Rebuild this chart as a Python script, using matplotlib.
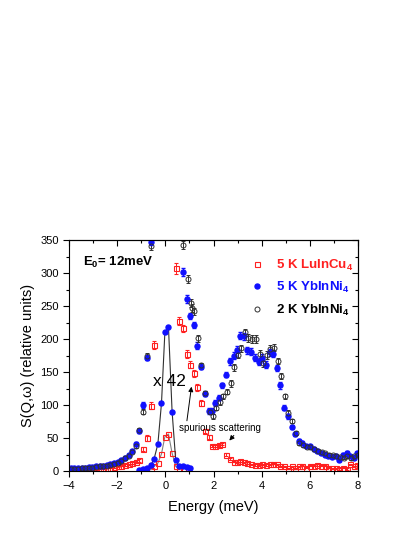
import numpy as np
import matplotlib
matplotlib.use("Agg")
from matplotlib import pyplot as plt
from matplotlib.lines import Line2D

plt.rcParams['font.family'] = ['Liberation Sans', 'DejaVu Sans']
plt.rcParams['mathtext.fontset'] = 'custom'
plt.rcParams['mathtext.rm'] = 'Liberation Sans'
plt.rcParams['mathtext.bf'] = 'Liberation Sans:bold'

# 5 K YbInNi4 (filled blue)
blue_x = [-3.93, -3.78, -3.63, -3.48, -3.33, -3.18, -3.03, -2.88, -2.73, -2.58,
          -2.43, -2.28, -2.13, -1.98, -1.83, -1.68, -1.53, -1.38, -1.23, -1.08,
          -0.91, -0.77, -0.6,
          0.72, 0.89, 1.03, 1.17, 1.33, 1.47, 1.63, 1.81, 1.93, 2.07,
          2.24, 2.37, 2.53, 2.68, 2.83, 2.98, 3.12, 3.27, 3.41, 3.55,
          3.73, 3.88, 4.02, 4.18, 4.33, 4.48, 4.63, 4.77, 4.92, 5.08,
          5.24, 5.38, 5.53, 5.69, 5.85, 5.99, 6.16, 6.3, 6.46, 6.61,
          6.77, 6.92, 7.07, 7.21, 7.38, 7.53, 7.68, 7.82, 7.96]
blue_y = [4, 4, 4, 5, 5, 6, 6, 7, 8, 8,
          9, 10, 12, 13, 16, 20, 24, 30, 41, 60,
          100, 172, 347,
          302, 261, 235, 221, 190, 158, 117, 91, 91, 103,
          111, 130, 146, 166, 175, 184, 205, 204, 183, 181,
          172, 165, 172, 161, 180, 178, 156, 130, 96, 83,
          67, 56, 46, 43, 38, 38, 33, 31, 28, 25,
          23, 21, 23, 17, 25, 28, 23, 20, 27]
blue_err = [1, 1, 1, 1, 1, 1, 1, 1, 1, 1,
            1, 1, 1, 1, 2, 2, 2, 2, 3, 3,
            4, 4, 5,
            6, 6, 5, 5, 5, 4, 4, 4, 4, 4,
            4, 4, 4, 5, 5, 5, 5, 5, 5, 5,
            5, 5, 5, 5, 5, 5, 5, 5, 4, 4,
            3, 3, 3, 3, 2, 2, 2, 2, 2, 2,
            2, 2, 2, 2, 2, 2, 2, 2, 2]

# 2 K YbInNi4 (open black)
black_x = [-3.93, -3.78, -3.63, -3.48, -3.33, -3.18, -3.03, -2.88, -2.73, -2.58,
           -2.43, -2.28, -2.13, -1.98, -1.83, -1.68, -1.53, -1.38, -1.23, -1.08,
           -0.91, -0.77, -0.6,
           0.75, 0.92, 1.06, 1.12, 1.2, 1.36, 1.5, 1.66, 1.84, 1.96, 2.1,
           2.27, 2.4, 2.56, 2.71, 2.86, 3.01, 3.15, 3.3, 3.44, 3.58,
           3.76, 3.91, 4.05, 4.21, 4.36, 4.51, 4.66, 4.8, 4.95, 5.11,
           5.27, 5.41, 5.56, 5.72, 5.88, 6.02, 6.19, 6.33, 6.49, 6.64,
           6.8, 6.95, 7.1, 7.24, 7.41, 7.56, 7.71, 7.85, 7.98]
black_y = [3, 3, 3, 4, 4, 5, 5, 6, 7, 7,
           8, 9, 11, 12, 15, 19, 23, 29, 38, 62,
           90, 175, 341,
           343, 291, 254, 247, 242, 201, 160, 118, 90, 83, 96,
           104, 113, 120, 133, 157, 176, 186, 210, 202, 200,
           200, 177, 163, 176, 185, 187, 167, 144, 113, 88,
           76, 57, 42, 40, 37, 36, 34, 31, 29, 27,
           25, 24, 23, 21, 20, 22, 19, 22, 25]
black_err = [1, 1, 1, 1, 1, 1, 1, 1, 1, 1,
             1, 1, 1, 1, 2, 2, 2, 2, 3, 3,
             4, 4, 6,
             6, 6, 6, 6, 5, 5, 4, 4, 4, 4, 4,
             4, 4, 4, 5, 5, 5, 5, 5, 6, 6,
             6, 6, 6, 6, 6, 5, 5, 5, 4, 4,
             3, 3, 3, 3, 2, 2, 2, 2, 2, 2,
             2, 2, 2, 2, 2, 2, 2, 2, 2]

# 5 K LuInCu4 (open red squares)
red_x = [-3.93, -3.78, -3.63, -3.48, -3.33, -3.18, -3.03, -2.88, -2.73, -2.58,
         -2.43, -2.28, -2.13, -1.98, -1.83, -1.68, -1.53, -1.38, -1.23, -1.08,
         -0.91, -0.77, -0.6, -0.47,
         0.43, 0.57, 0.72, 0.89, 1.03, 1.17, 1.33, 1.47, 1.63, 1.81,
         1.93, 2.07, 2.24, 2.37, 2.53, 2.68, 2.83, 2.98, 3.12, 3.27,
         3.41, 3.55, 3.73, 3.88, 4.02, 4.18, 4.33, 4.48, 4.63, 4.77,
         4.92, 5.08, 5.24, 5.38, 5.53, 5.69, 5.85, 5.99, 6.16, 6.3,
         6.46, 6.61, 6.77, 6.92, 7.07, 7.21, 7.38, 7.53, 7.68, 7.82, 7.96]
red_y = [2, 2, 2, 2, 2, 3, 3, 3, 4, 4,
         5, 5, 6, 7, 8, 9, 10, 12, 14, 16,
         33, 50, 99, 191,
         307, 227, 216, 178, 161, 148, 127, 103, 60, 51,
         38, 38, 39, 41, 25, 18, 14, 13, 15, 13,
         12, 10, 9, 9, 10, 9, 10, 11, 10, 7,
         7, 4, 7, 4, 7, 8, 5, 8, 8, 9,
         8, 8, 5, 4, 4, 3, 5, 3, 10, 7, 9]
red_err = [1, 1, 1, 1, 1, 1, 1, 1, 1, 1,
           1, 1, 1, 1, 1, 1, 1, 1, 2, 2,
           3, 4, 5, 6,
           8, 6, 6, 6, 5, 5, 5, 5, 3, 3,
           2, 2, 2, 2, 2, 1, 1, 1, 1, 1,
           1, 1, 1, 1, 1, 1, 1, 1, 1, 1,
           1, 1, 1, 1, 1, 1, 1, 1, 1, 1,
           1, 1, 1, 1, 1, 1, 1, 1, 1, 1, 1]

# elastic peak scaled down (x 42)
peak_blue_x = [-1.08, -0.91, -0.77, -0.6, -0.47, -0.31, -0.16, -0.02, 0.13,
               0.28, 0.43, 0.57, 0.72, 0.89, 1.03]
peak_blue_y = [2, 3, 4, 9, 18, 41, 103, 210, 218, 90, 16, 8, 7, 6, 5]
peak_red_x = [-0.6, -0.47, -0.31, -0.16, -0.02, 0.13, 0.28, 0.43, 0.57, 0.72]
peak_red_y = [2, 7, 12, 26, 52, 56, 27, 7, 3, 3]

red = '#ff2020'
blue = '#1010ff'
ms = 3.6

fig = plt.figure(figsize=(4.15, 5.37), dpi=100)
ax = fig.add_axes([0.1663, 0.1229, 0.6964, 0.430])

# scaled elastic peak lines
ax.plot(peak_red_x, peak_red_y, '-', color='#808080', lw=0.8,
        marker='s', ms=ms, mfc='none', mec=red, mew=0.8)
ax.plot(peak_blue_x, peak_blue_y, '-', color='#303030', lw=0.8,
        marker='o', ms=ms, mfc=blue, mec=blue)

ax.errorbar(red_x, red_y, yerr=red_err, fmt='s', ms=ms, mfc='none',
            mec=red, mew=0.8, ecolor=red, elinewidth=0.7, capsize=1.5)
ax.errorbar(blue_x, blue_y, yerr=blue_err, fmt='o', ms=ms, mfc=blue,
            mec=blue, ecolor=blue, elinewidth=0.7, capsize=1.5)
ax.errorbar(black_x, black_y, yerr=black_err, fmt='o', ms=ms, mfc='none',
            mec='#303030', mew=0.7, ecolor='#303030', elinewidth=0.7, capsize=1.5)

ax.set_xlim(-4, 8)
ax.set_ylim(0, 350)
ax.set_xticks([-4, -2, 0, 2, 4, 6, 8])
ax.set_xticks(np.arange(-3, 8, 2), minor=True)
ax.set_yticks(np.arange(0, 351, 50))
ax.set_yticks(np.arange(25, 350, 50), minor=True)
ax.tick_params(which='both', direction='out', labelsize=8, width=0.8)
ax.tick_params(which='major', length=4)
ax.tick_params(which='minor', length=2.5)
sx = ax.secondary_xaxis('top')
sx.set_xticks([-4, -2, 0, 2, 4, 6, 8])
sx.set_xticks(np.arange(-3, 8, 2), minor=True)
sx.tick_params(which='both', direction='in', labeltop=False, width=0.8)
sx.tick_params(which='major', length=4)
sx.tick_params(which='minor', length=2.5)
sy = ax.secondary_yaxis('right')
sy.set_yticks(np.arange(0, 351, 50))
sy.set_yticks(np.arange(25, 350, 50), minor=True)
sy.tick_params(which='both', direction='in', labelright=False, width=0.8)
sy.tick_params(which='major', length=4)
sy.tick_params(which='minor', length=2.5)

ax.set_xlabel('Energy (meV)', fontsize=10.5, labelpad=6)
ax.set_ylabel('S(Q,\u03c9) (relative units)', fontsize=10.5, labelpad=4)

ax.text(-3.4, 316, r'E$_\mathbf{0}$= 12meV', fontsize=9.5, fontweight='bold',
        va='center', ha='left')
ax.text(-0.5, 136, 'x 42', fontsize=12.5, va='center', ha='left')
ax.text(0.55, 65, 'spurious scattering', fontsize=7, va='center', ha='left')
ax.annotate('', xy=(1.1, 132), xytext=(0.88, 72),
            arrowprops=dict(arrowstyle='-|>', color='black', lw=0.7,
                            mutation_scale=7))
ax.annotate('', xy=(2.58, 43), xytext=(2.92, 57),
            arrowprops=dict(arrowstyle='-|>', color='black', lw=0.7,
                            mutation_scale=7))

handles = [Line2D([], [], ls='none', marker='s', ms=ms, mfc='none', mec=red, mew=0.8),
           Line2D([], [], ls='none', marker='o', ms=ms, mfc=blue, mec=blue),
           Line2D([], [], ls='none', marker='o', ms=ms, mfc='none', mec='#303030', mew=0.7)]
labels = [r'5 K LuInCu$_\mathbf{4}$', r'5 K YbInNi$_\mathbf{4}$', r'2 K YbInNi$_\mathbf{4}$']
leg = ax.legend(handles, labels, loc='upper right', bbox_to_anchor=(1.024, 0.975),
                frameon=False, handlelength=1.0, handletextpad=0.9,
                labelspacing=0.55, prop={'weight': 'bold', 'size': 9.5})
for t, c in zip(leg.get_texts(), [red, blue, 'black']):
    t.set_color(c)

plt.savefig('out.png', dpi=100)
